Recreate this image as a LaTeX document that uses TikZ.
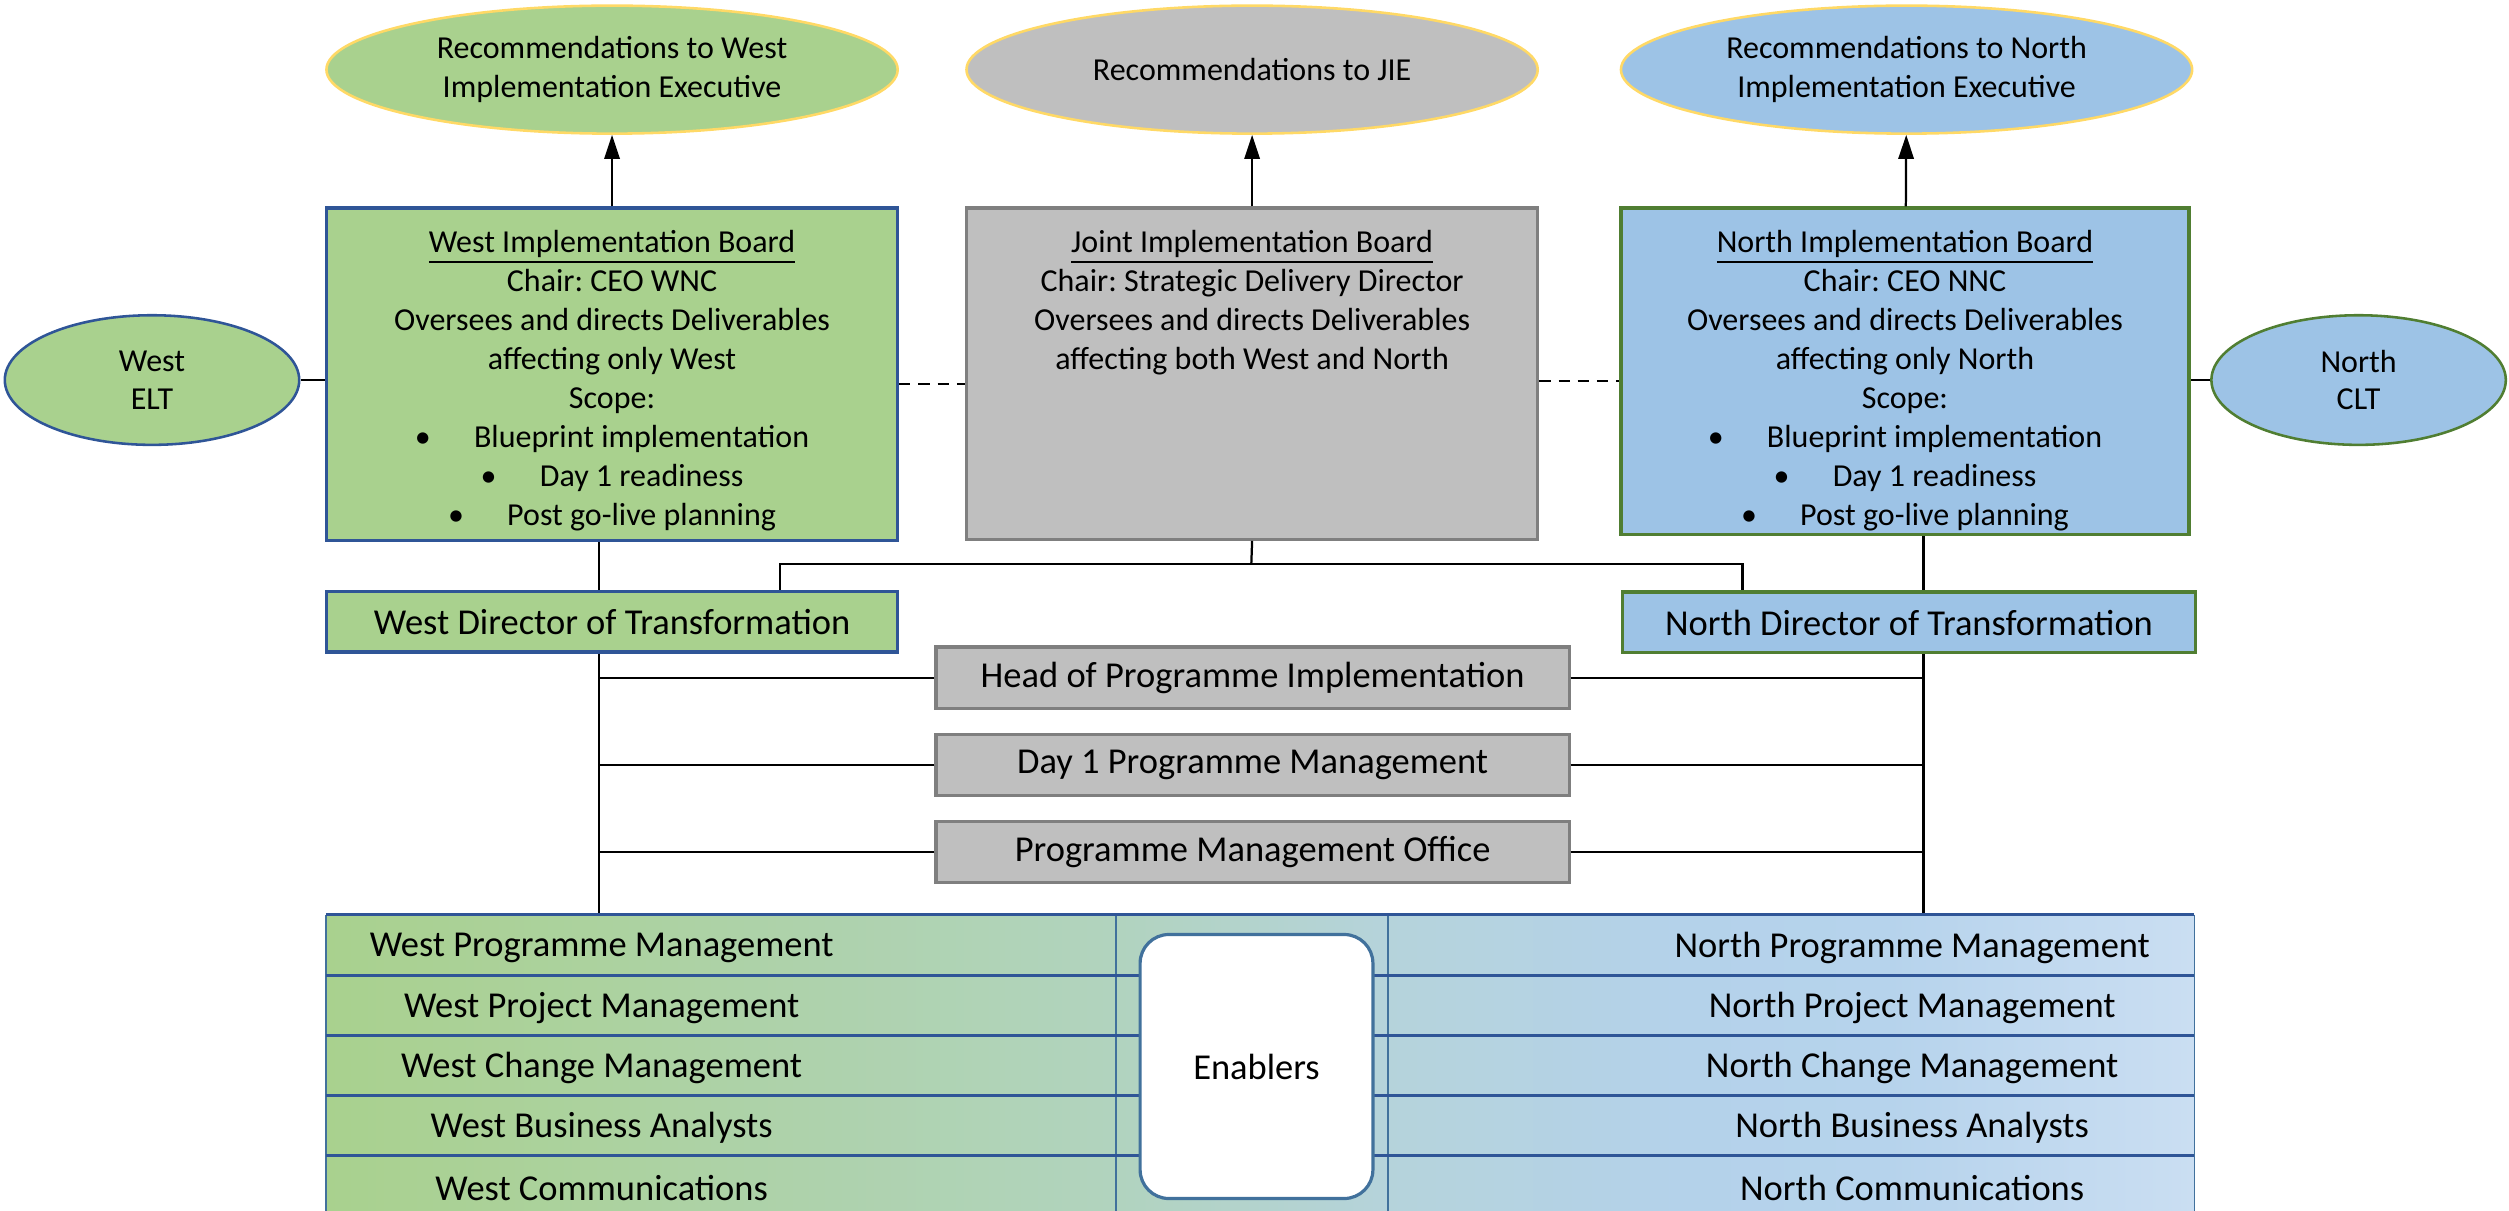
\documentclass[tikz,border=0pt]{standalone}
\usepackage{fontspec}
\setmainfont{Carlito}
\usetikzlibrary{positioning,shapes.geometric,arrows.meta}
\definecolor{wgreen}{HTML}{A9D18E}
\definecolor{nblue}{HTML}{9DC3E6}
\definecolor{jgray}{HTML}{BFBFBF}
\definecolor{navy}{HTML}{2F5597}
\definecolor{dgreen}{HTML}{507E32}
\definecolor{dgray}{HTML}{7F7F7F}
\definecolor{gold}{HTML}{FFD966}
\definecolor{enblue}{HTML}{41719C}
\definecolor{tleft}{HTML}{B1D3BE}
\definecolor{tmid}{HTML}{B5D3DB}
\definecolor{tsky}{HTML}{B4D2EA}
\definecolor{tpale}{HTML}{B6D3EC}
\definecolor{tright}{HTML}{CADEF2}
\pgfdeclarehorizontalshading{tablefade}{100bp}{color(0bp)=(wgreen); color(25bp)=(wgreen); color(46bp)=(tleft); color(53.4bp)=(tmid); color(61.2bp)=(tsky); color(66.8bp)=(tpale); color(75bp)=(tright); color(100bp)=(tright)}
\newcommand{\scopeitem}[1]{\textbullet\hspace{13.5pt}#1}
\frenchspacing

\begin{document}
\begin{tikzpicture}[x=0.5pt, y=-0.5pt,
  recoval/.style={ellipse, draw=gold, line width=0.8pt, minimum width=178.5pt, minimum height=40pt, inner sep=0pt, align=center, font=\fontsize{10}{12}\selectfont},
  board/.style={rectangle, line width=1pt, minimum width=178.5pt, inner sep=0pt},
  boardtext/.style={inner sep=0pt, align=center, font=\fontsize{10}{12.2}\selectfont},
  sideoval/.style={ellipse, line width=0.8pt, minimum width=92pt, minimum height=40.5pt, inner sep=0pt, align=center, font=\fontsize{10}{11.7}\selectfont},
  director/.style={rectangle, line width=1pt, minimum width=178.5pt, minimum height=19pt, inner sep=0pt, font=\fontsize{11.4}{13}\selectfont},
  office/.style={rectangle, fill=jgray, draw=dgray, line width=1pt, minimum width=197.8pt, minimum height=19.2pt, inner sep=0pt, font=\fontsize{11.4}{13}\selectfont},
  role/.style={inner sep=0pt, font=\fontsize{11.4}{13}\selectfont},
  link/.style={line width=0.7pt},
  peer/.style={line width=0.8pt, dash pattern=on 3.5pt off 2.5pt},
  rowline/.style={draw=navy, line width=1pt},
  colline/.style={draw=enblue, line width=0.5pt}
]
  \useasboundingbox (0,0) rectangle (1568,756.8);

  \node[recoval, fill=wgreen] (wrec) at (382.5,43.5) {Recommendations to West\\Implementation Executive};
  \node[recoval, fill=jgray] (jrec) at (782.5,43.5) {Recommendations to JIE};
  \node[recoval, fill=nblue] (nrec) at (1191.5,43.5) {Recommendations to North\\Implementation Executive};

  \node[board, fill=wgreen, draw=navy, minimum height=104pt] (wib) at (382.5,234) {};
  \node[board, fill=jgray, draw=dgray, minimum height=103.5pt] (jib) at (782.5,233.5) {};
  \node[board, fill=nblue, draw=dgreen, minimum height=102pt, minimum width=177.5pt] (nib) at (1190.5,232) {};

  \node[boardtext, below=7.2pt of wib.north] (wibtext) {\underline{West Implementation Board}\\Chair: CEO WNC\\Oversees and directs Deliverables\\affecting only West\\Scope:\\\scopeitem{Blueprint implementation}\\\scopeitem{Day 1 readiness}\\\scopeitem{Post go-live planning}};
  \node[boardtext, below=7.2pt of jib.north] (jibtext) {\underline{Joint Implementation Board}\\Chair: Strategic Delivery Director\\Oversees and directs Deliverables\\affecting both West and North};
  \node[boardtext, below=7.2pt of nib.north] (nibtext) {\underline{North Implementation Board}\\Chair: CEO NNC\\Oversees and directs Deliverables\\affecting only North\\Scope:\\\scopeitem{Blueprint implementation}\\\scopeitem{Day 1 readiness}\\\scopeitem{Post go-live planning}};

  \node[sideoval, fill=wgreen, draw=navy] (welt) at (95,237.5) {West\\ELT};
  \node[sideoval, fill=nblue, draw=dgreen] (nclt) at (1474,237.5) {North\\CLT};

  \draw[link] (welt.east) -- (wib.west |- welt.east);
  \draw[link] (nclt.west) -- (nib.east |- nclt.west);
  \draw[peer] ([yshift=-3pt]wib.east) -- ([yshift=-3pt]wib.east -| jib.west);
  \draw[peer] ([yshift=-2.25pt]jib.east) -- ([yshift=-2.25pt]jib.east -| nib.west);

  \draw[link, -{Triangle[width=4.8pt,length=7.5pt]}] (wib) -- (wrec);
  \draw[link, -{Triangle[width=4.8pt,length=7.5pt]}] (jib) -- (jrec);
  \draw[link, -{Triangle[width=4.8pt,length=7.5pt]}] (nib) -- (nrec);

  \node[director, fill=wgreen, draw=navy] (wdt) at (382.5,388.5) {West Director of Transformation};
  \node[director, fill=nblue, draw=dgreen, minimum width=179pt] (ndt) at (1193,389) {North Director of Transformation};

  \coordinate (jbus) at (782,352.5);
  \draw[link] (jib.south) -- (jbus);
  \draw[link] ([xshift=52.5pt]wdt.north) |- (jbus) -| ([xshift=-52pt]ndt.north);

  \node[office] (hpi) at (782.8,423.5) {Head of Programme Implementation};
  \node[office] (dpm) at (782.8,478) {Day 1 Programme Management};
  \node[office] (pmo) at (782.8,532.5) {Programme Management Office};

  \node[rectangle, inner sep=0pt, minimum width=583.5pt, minimum height=93.75pt, shading=tablefade] (tbl) at (787.5,665.75) {};

  \coordinate (wv) at (374.5,480);
  \coordinate (nv) at (1202,480);
  \draw[link] (wib.south -| wv) -- (wdt.north -| wv);
  \draw[link] (wdt.south -| wv) -- (tbl.north -| wv);
  \draw[link] (nib.south -| nv) -- (ndt.north -| nv);
  \draw[link] (ndt.south -| nv) -- (tbl.north -| nv);

  \draw[link] (hpi.west) -- (hpi.west -| wv);
  \draw[link] (hpi.east) -- (hpi.east -| nv);
  \draw[link] (dpm.west) -- (dpm.west -| wv);
  \draw[link] (dpm.east) -- (dpm.east -| nv);
  \draw[link] (pmo.west) -- (pmo.west -| wv);
  \draw[link] (pmo.east) -- (pmo.east -| nv);

  \draw[colline] (tbl.north west) -- (tbl.south west);
  \draw[colline] (tbl.north east) -- (tbl.south east);
  \draw[colline] (697.5,572) -- (697.5,759.5);
  \draw[colline] (867.5,572) -- (867.5,759.5);
  \draw[rowline] (tbl.north west) -- (tbl.north east);
  \draw[rowline] (204,609.5) -- (1371,609.5);
  \draw[rowline] (204,647) -- (1371,647);
  \draw[rowline] (204,684.5) -- (1371,684.5);
  \draw[rowline] (204,722) -- (1371,722);
  \draw[rowline] (tbl.south west) -- (tbl.south east);

  \node[rectangle, rounded corners=9pt, fill=white, draw=enblue, line width=1pt, minimum width=72.75pt, minimum height=82.5pt, inner sep=0pt, font=\fontsize{11.4}{13}\selectfont] (enb) at (785.25,666.5) {Enablers};

  \node[role] (wpgm) at (376,592.5) {West Programme Management};
  \node[role] (wprj) at (376,630) {West Project Management};
  \node[role] (wchg) at (376,667.5) {West Change Management};
  \node[role] (wba) at (376,705) {West Business Analysts};
  \node[role] (wcom) at (376,742.5) {West Communications};
  \node[role] (npgm) at (1195,592.5) {North Programme Management};
  \node[role] (nprj) at (1195,630) {North Project Management};
  \node[role] (nchg) at (1195,667.5) {North Change Management};
  \node[role] (nba) at (1195,705) {North Business Analysts};
  \node[role] (ncom) at (1195,742.5) {North Communications};
\end{tikzpicture}
\end{document}
